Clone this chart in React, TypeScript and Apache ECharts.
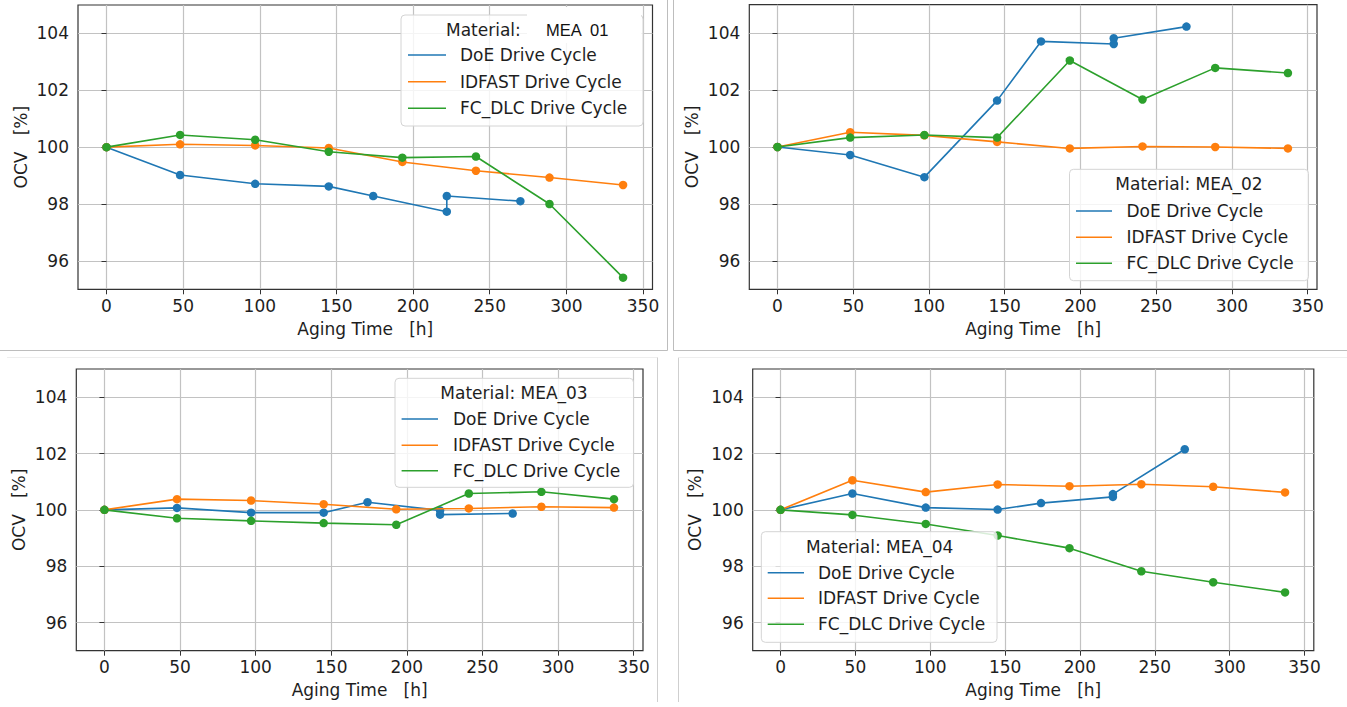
import React, { useEffect, useRef } from "react";
import * as echarts from "echarts";

// Line colours (tab10)
const BLUE = "#1f77b4";
const ORANGE = "#ff7f0e";
const GREEN = "#2ca02c";

const seriesNames = ["DoE Drive Cycle", "IDFAST Drive Cycle", "FC_DLC Drive Cycle"];
const seriesColors = [BLUE, ORANGE, GREEN];

// Aging-time sampling points [h]
const doeHours = [0, 48, 97, 145, 174, 222, 222, 270];
const cycleHours = [0, 48, 97, 145, 193, 241, 289, 337];

// Tick values
const xTicks = [0, 50, 100, 150, 200, 250, 300, 350];
const yTicks = [96, 98, 100, 102, 104];

// OCV relative to the initial value [%]
const mea01Doe = [100, 99.02, 98.71, 98.62, 98.28, 97.73, 98.28, 98.1];
const mea01Idfast = [100, 100.1, 100.06, 99.97, 99.48, 99.17, 98.93, 98.67];
const mea01Fcdlc = [100, 100.43, 100.26, 99.84, 99.63, 99.67, 98.0, 95.41];

const mea02Doe = [100, 99.72, 98.94, 101.63, 103.71, 103.62, 103.82, 104.23];
const mea02Idfast = [100, 100.52, 100.41, 100.18, 99.95, 100.02, 100.0, 99.95];
const mea02Fcdlc = [100, 100.33, 100.42, 100.33, 103.04, 101.67, 102.78, 102.6];

const mea03Doe = [100, 100.07, 99.9, 99.9, 100.27, 99.98, 99.83, 99.87];
const mea03Idfast = [100, 100.38, 100.33, 100.2, 100.02, 100.05, 100.11, 100.08];
const mea03Fcdlc = [100, 99.7, 99.61, 99.53, 99.47, 100.58, 100.64, 100.38];

const mea04Doe = [100, 100.58, 100.08, 100.01, 100.24, 100.46, 100.56, 102.15];
const mea04Idfast = [100, 101.05, 100.63, 100.9, 100.84, 100.91, 100.82, 100.62];
const mea04Fcdlc = [100, 99.82, 99.5, 99.09, 98.64, 97.82, 97.43, 97.07];

const materials = ["MEA_01", "MEA_02", "MEA_03", "MEA_04"];
const materialData = [
  [mea01Doe, mea01Idfast, mea01Fcdlc],
  [mea02Doe, mea02Idfast, mea02Fcdlc],
  [mea03Doe, mea03Idfast, mea03Fcdlc],
  [mea04Doe, mea04Idfast, mea04Fcdlc],
];

const FONT = "DejaVu Sans";
const TEXT = "#1e1e1e";
const FS = 17;
const LEGEND_Z = 100;

// Plot-area rectangles of the four panels
const layouts = [
  {
    grid: { left: 78, top: 5, width: 574.5, height: 284.3 },
    legend: { x: 401, y: 15, w: 242, h: 111, titleX: 446, titleAlign: "left", titleY: 29.5, hx0: 408, hx1: 446, tx: 460, rows: [55, 81.7, 108.3] },
  },
  {
    grid: { left: 749.3, top: 4.7, width: 567.7, height: 284.6 },
    legend: { x: 1069.5, y: 169.3, w: 239, h: 111.4, titleX: 1189, titleAlign: "center", titleY: 184.3, hx0: 1076, hx1: 1112, tx: 1126.5, rows: [211, 237.3, 263.3] },
  },
  {
    grid: { left: 76.3, top: 369, width: 566.7, height: 281.7 },
    legend: { x: 395, y: 378.3, w: 238.5, h: 109, titleX: 514, titleAlign: "center", titleY: 392.7, hx0: 401.6, hx1: 438, tx: 453, rows: [419, 445.3, 470.7] },
  },
  {
    grid: { left: 752.7, top: 369, width: 561.1, height: 281.7 },
    legend: { x: 761.3, y: 531.7, w: 235.7, h: 110.6, titleX: 879.6, titleAlign: "center", titleY: 546.7, hx0: 767.7, hx1: 804, tx: 818, rows: [572.7, 598.3, 624.3] },
  },
];

function legendElements(i: number): any[] {
  const L: any = layouts[i].legend;
  const els: any[] = [
    {
      type: "rect",
      z: LEGEND_Z,
      shape: { x: L.x, y: L.y, width: L.w, height: L.h, r: 4 },
      style: { fill: "rgba(255,255,255,0.82)", stroke: "#d4d4d4", lineWidth: 1 },
    },
  ];
  const titleText = i === 0 ? "Material:" : "Material: " + materials[i];
  els.push({
    type: "text",
    z: LEGEND_Z + 1,
    style: { text: titleText, x: L.titleX, y: L.titleY, fill: TEXT, fontSize: FS, fontFamily: FONT, align: L.titleAlign, verticalAlign: "middle" },
  });
  if (i === 0) {
    // relabelled title on a white patch
    els.push({
      type: "rect",
      z: LEGEND_Z + 2,
      shape: { x: 527, y: 7, width: 114, height: 36 },
      style: { fill: "#ffffff" },
    });
    els.push({
      type: "text",
      z: LEGEND_Z + 3,
      style: { text: "MEA  01", x: 546, y: 29.5, fill: "#111", fontSize: 16.5, fontFamily: "Liberation Sans", align: "left", verticalAlign: "middle" },
    });
  }
  seriesNames.forEach((name, k) => {
    els.push({
      type: "line",
      z: LEGEND_Z + 1,
      shape: { x1: L.hx0, y1: L.rows[k], x2: L.hx1, y2: L.rows[k] },
      style: { stroke: seriesColors[k], lineWidth: 1.6 },
    });
    els.push({
      type: "text",
      z: LEGEND_Z + 1,
      style: { text: name, x: L.tx, y: L.rows[k], fill: TEXT, fontSize: FS, fontFamily: FONT, align: "left", verticalAlign: "middle" },
    });
  });
  return els;
}

function sepLine(x1: number, y1: number, x2: number, y2: number, color: string): any {
  return { type: "line", z: 50, shape: { x1, y1, x2, y2 }, style: { stroke: color, lineWidth: 1 } };
}

export default function App() {
  const ref = useRef<HTMLDivElement>(null);

  useEffect(() => {
    if (!ref.current) return;
    const chart = echarts.init(ref.current, undefined, { renderer: "svg" });

    const grids = layouts.map((l) => ({
      ...l.grid,
      show: true,
      borderColor: "#333",
      borderWidth: 1.2,
      backgroundColor: "transparent",
      containLabel: false,
    }));

    const xAxes = layouts.map((_, i) => ({
      type: "value",
      gridIndex: i,
      min: -18.6,
      max: 356.2,
      name: "Aging Time   [h]",
      nameLocation: "middle",
      nameGap: 31,
      nameTextStyle: { fontSize: FS, fontFamily: FONT, color: TEXT },
      axisLine: { show: false },
      axisTick: { show: true, length: 5, customValues: xTicks, lineStyle: { color: "#333", width: 1 } },
      axisLabel: { customValues: xTicks, fontSize: FS, fontFamily: FONT, color: TEXT, margin: 8 },
      splitLine: { show: true, lineStyle: { color: "#c2c2c2", width: 1.2 } },
    }));

    const yAxes = layouts.map((_, i) => ({
      type: "value",
      gridIndex: i,
      min: 95,
      max: 105,
      name: "OCV   [%]",
      nameLocation: "middle",
      nameGap: 49,
      nameTextStyle: { fontSize: FS, fontFamily: FONT, color: TEXT },
      axisLine: { show: false },
      axisTick: { show: true, length: 5, customValues: yTicks, lineStyle: { color: "#333", width: 1 } },
      axisLabel: { customValues: yTicks, fontSize: FS, fontFamily: FONT, color: TEXT, margin: 9 },
      splitLine: { show: true, lineStyle: { color: "#c2c2c2", width: 1.2 } },
    }));

    const series: any[] = [];
    materialData.forEach((sets, i) => {
      sets.forEach((vals, k) => {
        const hours = k === 0 ? doeHours : cycleHours;
        series.push({
          type: "line",
          name: seriesNames[k],
          xAxisIndex: i,
          yAxisIndex: i,
          data: vals.map((v, j) => [hours[j], v]),
          symbol: "circle",
          symbolSize: 8.5,
          showAllSymbol: true,
          lineStyle: { color: seriesColors[k], width: 1.6 },
          itemStyle: { color: seriesColors[k] },
          z: 2 + k,
        });
      });
    });

    const graphics: any[] = [
      sepLine(667.5, 0, 667.5, 350.5, "#bdbdbd"),
      sepLine(0, 350.5, 667.5, 350.5, "#bdbdbd"),
      sepLine(673.5, 0, 673.5, 350.5, "#bdbdbd"),
      sepLine(673.5, 350.5, 1347, 350.5, "#bdbdbd"),
      sepLine(7, 357.5, 657.5, 357.5, "#eeeeee"),
      sepLine(657.5, 357.5, 657.5, 702, "#cfcfcf"),
      sepLine(678.5, 357.5, 678.5, 702, "#cfcfcf"),
      sepLine(678.5, 357.5, 1347, 357.5, "#eeeeee"),
      ...layouts.flatMap((_, i) => legendElements(i)),
    ];

    chart.setOption({
      animation: false,
      backgroundColor: "#ffffff",
      grid: grids,
      xAxis: xAxes,
      yAxis: yAxes,
      series,
      graphic: graphics,
    });

    return () => chart.dispose();
  }, []);

  return <div ref={ref} style={{ position: "absolute", left: 0, top: 0, width: 1347, height: 707 }} />;
}
